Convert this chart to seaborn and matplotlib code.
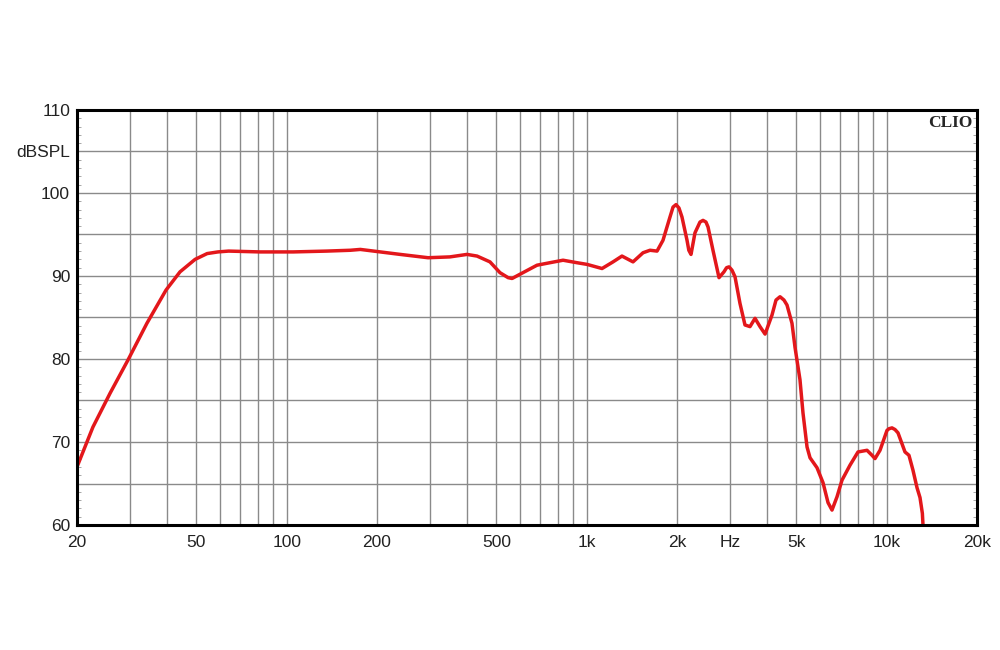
import matplotlib
matplotlib.use('Agg')

import numpy as np
import pandas as pd
import seaborn as sns
from matplotlib import pyplot as plt
from matplotlib.ticker import FixedLocator, NullFormatter

# frequency response
freq_hz = [20, 22.6, 25.8, 29.6, 34.2, 39.6, 44.1, 46.9, 49.5, 54.3, 59, 64,
           81.5, 105, 136, 163, 176, 239, 296, 350, 399, 431,
           476, 514, 547, 564, 613, 683, 754, 834, 928, 1002,
           1125, 1224, 1311, 1427, 1541, 1626, 1716, 1796, 1895, 1940, 1985,
           2030, 2078, 2160, 2190, 2227, 2296, 2386, 2442, 2498, 2538, 2636,
           2761, 2868, 2926, 2982, 3050, 3122, 3243, 3370, 3502, 3640, 3782,
           3932, 4147, 4276, 4410, 4546, 4653, 4834, 4948, 5140, 5260, 5426,
           5552, 5858, 6134, 6374, 6572, 6830, 7096, 7544, 8024, 8598, 8934,
           9142, 9500, 10024, 10180, 10417, 10660, 10908, 11508, 11864,
           12236, 12619, 12914, 13150, 13214]
spl_db = [67.0, 71.8, 75.9, 79.9, 84.3, 88.3, 90.5, 91.3, 92.0, 92.7, 92.9, 93.0,
          92.9, 92.9, 93.0, 93.1, 93.2, 92.6, 92.2, 92.3, 92.6, 92.4,
          91.7, 90.4, 89.8, 89.7, 90.4, 91.3, 91.6, 91.9, 91.6, 91.4,
          90.9, 91.7, 92.4, 91.7, 92.8, 93.1, 93.0, 94.3, 97.1, 98.3, 98.6,
          98.2, 97.1, 94.3, 93.1, 92.6, 95.2, 96.5, 96.7, 96.5, 95.9, 93.1,
          89.8, 90.5, 91.0, 91.1, 90.7, 89.9, 86.7, 84.1, 83.9, 84.9, 83.9,
          83.0, 85.3, 87.1, 87.5, 87.1, 86.5, 84.3, 81.4, 77.5, 73.5, 69.4,
          68.1, 66.9, 65.1, 62.7, 61.8, 63.4, 65.4, 67.2, 68.8, 69.0, 68.4,
          68.0, 69.0, 71.4, 71.6, 71.7, 71.5, 71.1, 68.8, 68.4,
          66.6, 64.5, 63.3, 61.4, 60.0]

x_tick_pos = [20, 50, 100, 200, 500, 1000, 2000, 3000, 5000, 10000, 20000]
x_tick_lbl = ['20', '50', '100', '200', '500', '1k', '2k', 'Hz', '5k', '10k', '20k']
y_tick_pos = [60, 70, 80, 90, 100, 105, 110]
y_tick_lbl = ['60', '70', '80', '90', '100', 'dBSPL', '110']

df = pd.DataFrame({'freq': freq_hz, 'spl': spl_db})

sns.set_style('white')
plt.rcParams['font.family'] = ['Liberation Sans', 'DejaVu Sans']

fig = plt.figure(figsize=(10, 6.5), dpi=100)
ax = fig.add_axes([0.077, 0.1923, 0.9, 0.6385])
ax.set_xscale('log')

# grid lines: 1..9 per decade, every 5 dB
vgrid = [m * d for d in (10, 100, 1000) for m in range(1, 10)] + [10000]
vgrid = [v for v in vgrid if 20 < v < 20000]
for v in vgrid:
    ax.axvline(v, color='#8a8a8a', lw=1.0, zorder=1)
for h in range(65, 110, 5):
    ax.axhline(h, color='#8a8a8a', lw=1.0, zorder=1)

sns.lineplot(data=df, x='freq', y='spl', ax=ax, color='#e3171b',
             linewidth=2.5, zorder=3)
for l in ax.lines:
    l.set_solid_joinstyle('round')

ax.set_xlim(20, 20000)
ax.set_ylim(60, 110)
ax.xaxis.set_major_locator(FixedLocator(x_tick_pos))
ax.xaxis.set_minor_locator(FixedLocator([]))
ax.xaxis.set_minor_formatter(NullFormatter())
ax.set_xticklabels(x_tick_lbl)
ax.set_yticks(y_tick_pos)
ax.set_yticklabels(y_tick_lbl)
ax.yaxis.set_minor_locator(FixedLocator(np.arange(60, 111, 1)))
ax.tick_params(axis='both', which='major', length=0, labelsize=12.5,
               colors='#222222', pad=7)
ax.tick_params(axis='y', which='major', pad=5)
ax.tick_params(axis='y', which='minor', length=3, width=0.6, direction='in',
               left=True, right=True, color='#999999')
ax.set_xlabel('')
ax.set_ylabel('')

for s in ax.spines.values():
    s.set_color('black')
    s.set_linewidth(2.2)
    s.set_zorder(4)

ax.text(0.995, 0.988, 'CLIO', transform=ax.transAxes, ha='right', va='top',
        fontsize=12.5, fontweight='bold', family=['Liberation Serif', 'DejaVu Serif'])

fig.savefig('out.png', dpi=100, facecolor='white')
